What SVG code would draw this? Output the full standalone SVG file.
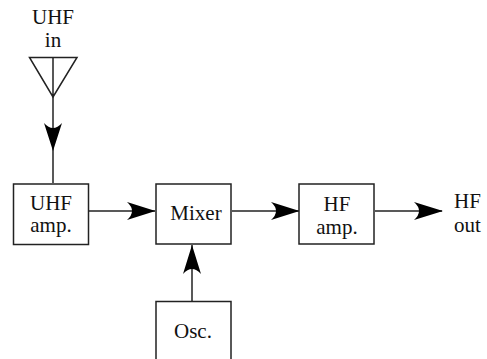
<svg xmlns="http://www.w3.org/2000/svg" width="487" height="359" viewBox="0 0 487 359">
<style>
text{font-family:"Liberation Serif","Times New Roman",serif;font-size:21px;fill:#111}
.m{text-anchor:middle}
.b{fill:#fff;stroke:#222;stroke-width:1.5}
.c{fill:none;stroke:#222;stroke-width:1.5}
.h{fill:#000;stroke:none}
</style>
<rect width="487" height="359" fill="#fff"/>
<g id="connectors">
<path class="c" d="M53 97V183"/><path class="h" d="M53 151L44 123Q53 133 62 123Z"/>
<path class="c" d="M88 211H155"/><path class="h" d="M155.500 211L127 202Q137 211 127 220Z"/>
<path class="c" d="M232 211H299"/><path class="h" d="M299.500 211L271 202Q281 211 271 220Z"/>
<path class="c" d="M375 211H442"/><path class="h" d="M443 211L414 202Q424 211 414 220Z"/>
<path class="c" d="M192 301V245"/><path class="h" d="M192 245L183 274Q192 264 201 274Z"/>
</g>
<g id="antenna"><path class="c" d="M29.500 57.500H77L53 97ZM53 57.500V97"/><text class="m" x="53" y="24">UHF</text><text class="m" x="53" y="47">in</text></g>
<g id="uhf-amp"><rect class="b" x="13.500" y="184" width="75" height="60.500"/><text class="m" x="51" y="210">UHF</text><text class="m" x="51" y="232">amp.</text></g>
<g id="mixer"><rect class="b" x="156" y="184" width="75" height="60"/><text class="m" x="196" y="220">Mixer</text></g>
<g id="hf-amp"><rect class="b" x="299" y="184" width="75" height="60"/><text class="m" x="337" y="211">HF</text><text class="m" x="337" y="234">amp.</text></g>
<g id="osc"><rect class="b" x="156" y="301.500" width="75" height="60"/><text class="m" x="193" y="338">Osc.</text></g>
<g id="hf-out"><text x="454" y="208">HF</text><text x="454" y="232">out</text></g>
</svg>
